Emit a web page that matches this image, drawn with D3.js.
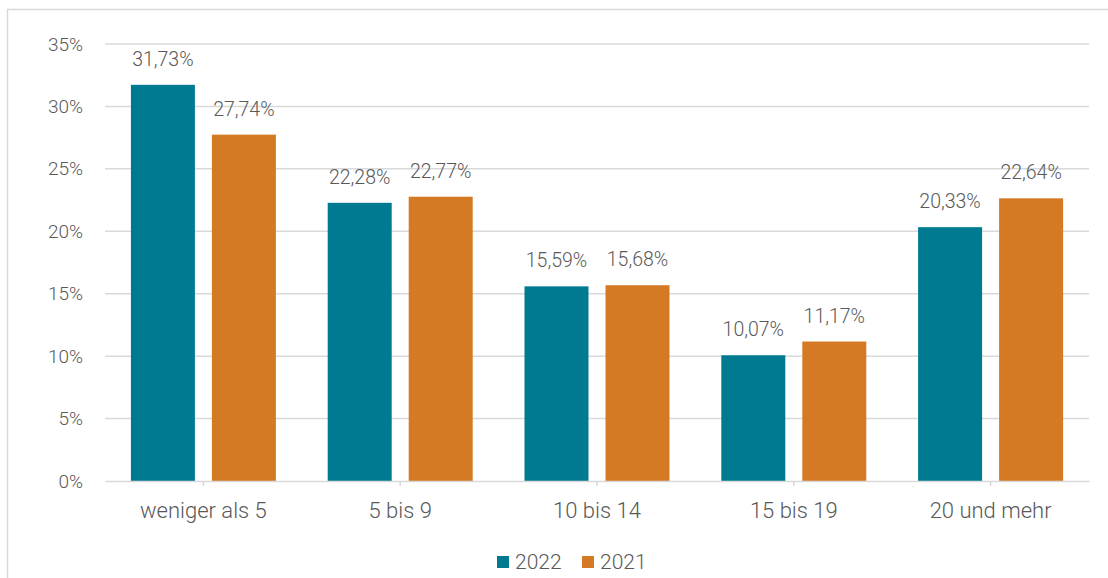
<html>
<head>
    <title>Anteile nach Kategorie</title>
    <script src='https://d3js.org/d3.v7.min.js'></script>
    <style>
        body { margin: 0; background: #fff; }
        text { font-family: Roboto, sans-serif; font-weight: 300; fill: #595959; }
    </style>
</head>
<body>
    <svg id="chart"></svg>
    <script>
        // data
        var categories = ["weniger als 5", "5 bis 9", "10 bis 14", "15 bis 19", "20 und mehr"];
        var seriesNames = ["2022", "2021"];
        var values2022 = [31.73, 22.28, 15.59, 10.07, 20.33];
        var values2021 = [27.74, 22.77, 15.68, 11.17, 22.64];
        var yTicks = [0, 5, 10, 15, 20, 25, 30, 35];
        var colors = ["#007a91", "#d57a24"];

        var W = 1108, H = 578;
        var plotLeft = 105, plotRight = 1089, plotTop = 44, plotBottom = 481;

        var svg = d3.select("#chart").attr("width", W).attr("height", H);

        // outer frame (only left and top edge visible)
        svg.append("path")
            .attr("d", "M7.5,578 V9.5 H1108")
            .attr("fill", "none")
            .attr("stroke", "#d9d9d9")
            .attr("stroke-width", 1.5);

        var x = d3.scaleBand().domain(categories).range([plotLeft, plotRight]);
        var inner = d3.scaleBand().domain(seriesNames).range([0, 145]).paddingInner(0.21);
        var y = d3.scaleLinear().domain([0, 35]).range([plotBottom, plotTop]);

        // gridlines
        svg.append("g").selectAll("line")
            .data(yTicks.slice(1))
            .enter().append("line")
            .attr("x1", plotLeft).attr("x2", plotRight)
            .attr("y1", function (d) { return y(d); })
            .attr("y2", function (d) { return y(d); })
            .attr("stroke", "#d9d9d9")
            .attr("stroke-width", 1.5);

        // y axis labels
        var yAxis = svg.append("g")
            .attr("transform", "translate(" + plotLeft + ",0)")
            .call(d3.axisLeft(y).tickValues(yTicks).tickSize(0).tickPadding(22)
                .tickFormat(function (d) { return d + "%"; }));
        yAxis.select(".domain").remove();
        yAxis.selectAll("text").style("font-size", "19px").attr("fill", "#595959");

        // bars
        var rows = categories.map(function (c, i) {
            return { cat: c, vals: [values2022[i], values2021[i]] };
        });
        var groups = svg.append("g").selectAll("g")
            .data(rows)
            .enter().append("g")
            .attr("transform", function (d) { return "translate(" + (x(d.cat) + (x.bandwidth() - 145) / 2) + ",0)"; });

        groups.selectAll("rect")
            .data(function (d) { return d.vals.map(function (v, j) { return { s: seriesNames[j], v: v, j: j }; }); })
            .enter().append("rect")
            .attr("x", function (d) { return inner(d.s); })
            .attr("width", inner.bandwidth())
            .attr("y", function (d) { return y(d.v); })
            .attr("height", function (d) { return plotBottom - y(d.v); })
            .attr("fill", function (d) { return colors[d.j]; });

        groups.selectAll("text.val")
            .data(function (d) { return d.vals.map(function (v, j) { return { s: seriesNames[j], v: v }; }); })
            .enter().append("text")
            .attr("class", "val")
            .attr("x", function (d) { return inner(d.s) + inner.bandwidth() / 2; })
            .attr("y", function (d) { return y(d.v) - 19; })
            .attr("text-anchor", "middle")
            .style("font-size", "19.5px")
            .text(function (d) { return d.v.toFixed(2).replace(".", ",") + "%"; });

        // x axis
        var xAxis = svg.append("g")
            .attr("transform", "translate(0," + plotBottom + ")")
            .call(d3.axisBottom(x).tickSize(5).tickPadding(16).tickSizeOuter(0));
        xAxis.select(".domain").attr("stroke", "#d9d9d9").attr("stroke-width", 1.5);
        xAxis.selectAll(".tick line").attr("stroke", "#d9d9d9").attr("stroke-width", 1.5);
        xAxis.selectAll("text").style("font-size", "22px").attr("fill", "#595959");

        // legend
        var legend = svg.append("g").attr("transform", "translate(497,556)");
        var items = legend.selectAll("g")
            .data(seriesNames)
            .enter().append("g")
            .attr("transform", function (d, i) { return "translate(" + (i * 85) + ",0)"; });
        items.append("rect")
            .attr("width", 12).attr("height", 12)
            .attr("fill", function (d, i) { return colors[i]; });
        items.append("text")
            .attr("x", 18).attr("y", 13)
            .style("font-size", "21px")
            .text(function (d) { return d; });
    </script>
</body>
</html>
